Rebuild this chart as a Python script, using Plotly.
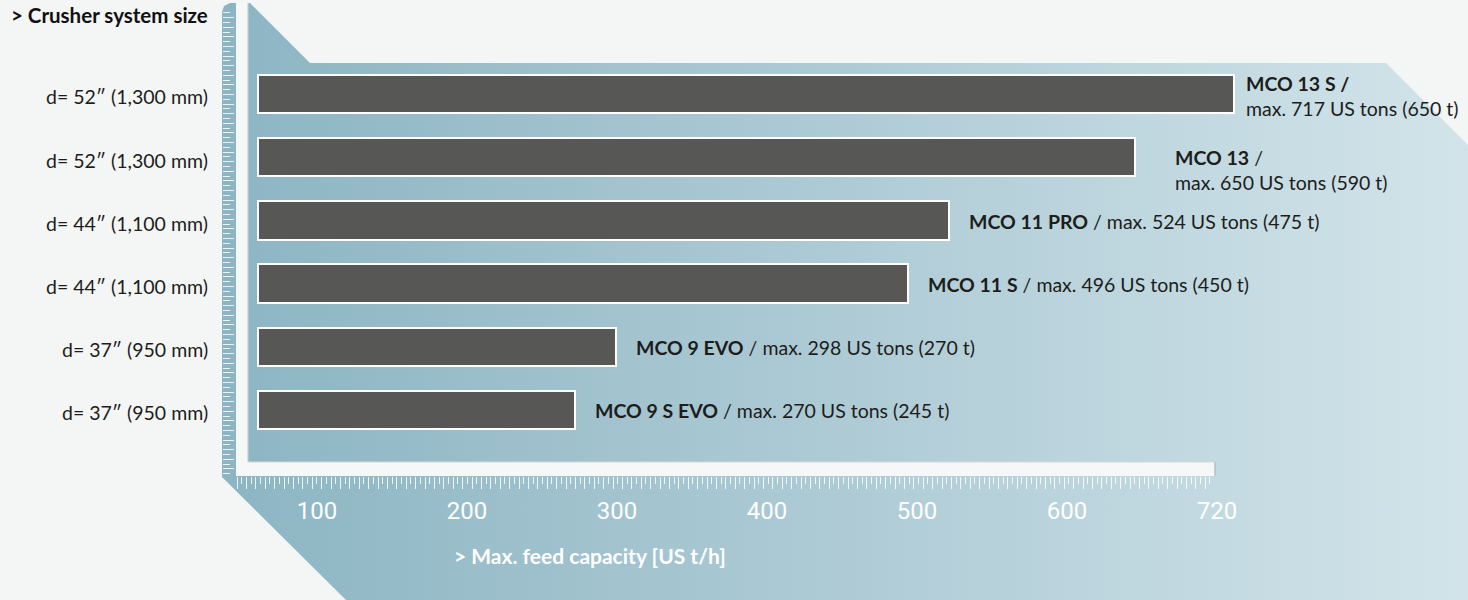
import plotly.graph_objects as go

W, H = 1468, 600

# ---------------- data ----------------
MODELS = ["MCO 9 S EVO", "MCO 9 EVO", "MCO 11 S", "MCO 11 PRO", "MCO 13", "MCO 13 S"]
CAPACITY_US = [270, 298, 496, 524, 650, 717]      # max. US tons
CAPACITY_T = [245, 270, 450, 475, 590, 650]       # metric t
SIZES = ["d= 37″ (950 mm)", "d= 37″ (950 mm)", "d= 44″ (1,100 mm)",
         "d= 44″ (1,100 mm)", "d= 52″ (1,300 mm)", "d= 52″ (1,300 mm)"]
TICK_VALUES = [100, 200, 300, 400, 500, 600, 700]
TICK_LABELS = ["100", "200", "300", "400", "500", "600", "720"]
Y_TITLE = "> Crusher system size"
X_TITLE = "> Max. feed capacity [US t/h]"

# ---------------- styling / layout helpers ----------------
FONT = "Lato"
TXT = "#1d1d1b"
BAR = "#575756"
PAPER = "#f4f5f5"


def px(x):
    return x / W


def py(y):
    return 1 - y / H


# bar axis: pixel = A + B * value (scale of the original graphic)
A, B = 176.8, 1.474
BAR_BASE = (258 - A) / B


def val(pxl):
    return (pxl - A) / B


fig = go.Figure()

# background polygon with horizontal gradient (in pixel-unit axes x/y)
poly_x = [222, 224, 230, 250, 310, 1386, 1468, 1468, 346, 222, 222]
poly_y = [12, 6, 3, 3, 63, 63, 145, 600, 600, 477, 12]
fig.add_trace(go.Scatter(
    x=poly_x, y=poly_y, mode="lines", fill="toself", line=dict(width=0),
    fillgradient=dict(type="horizontal",
                      colorscale=[[0, "#8cb5c3"], [0.5, "#aecbd5"], [1, "#d2e4ea"]]),
    hoverinfo="skip", showlegend=False, xaxis="x", yaxis="y"))

# bars
fig.add_trace(go.Bar(
    orientation="h", y=MODELS, x=[v - BAR_BASE for v in CAPACITY_US], base=BAR_BASE,
    width=0.61, marker=dict(color=BAR, line=dict(color="white", width=2)),
    xaxis="x2", yaxis="y2", showlegend=False, hoverinfo="skip"))

# dummy traces to instantiate ruler / label axes
for xa, ya in [("x3", "y"), ("x4", "y"), ("x", "y3")]:
    fig.add_trace(go.Scatter(x=[None], y=[None], xaxis=xa, yaxis=ya,
                             showlegend=False, hoverinfo="skip"))

annotations = []
# left category labels
for m, s in zip(MODELS, SIZES):
    annotations.append(dict(xref="paper", x=px(210), yref="y2", y=m, text=s,
                            xanchor="right", yanchor="middle", showarrow=False,
                            yshift=-3, font=dict(family=FONT, size=19.5, color=TXT)))

# bar labels
label_style = {
    "MCO 13 S": dict(xshift=10, yshift=-2, two=True, boldslash=True),
    "MCO 13": dict(xshift=38, yshift=-13, two=True, boldslash=False),
}
for m, us, t in zip(MODELS, CAPACITY_US, CAPACITY_T):
    st = label_style.get(m, dict(xshift=18, yshift=-1, two=False, boldslash=False))
    rest = f"max. {us} US tons ({t} t)"
    if st["two"]:
        head = f"<b>{m} /</b>" if st["boldslash"] else f"<b>{m}</b> /"
        text = f"{head}<br>{rest}"
    else:
        text = f"<b>{m}</b> / {rest}"
    annotations.append(dict(xref="x2", x=us, yref="y2", y=m, text=text,
                            xanchor="left", yanchor="middle", align="left",
                            showarrow=False, xshift=st["xshift"], yshift=st["yshift"],
                            font=dict(family=FONT, size=19.5, color=TXT)))

annotations.append(dict(xref="paper", x=px(210), y=py(15), yref="paper", text=f"<b>{Y_TITLE}</b>",
                        xanchor="right", yanchor="middle", showarrow=False,
                        font=dict(family=FONT, size=20.5, color="#111111")))
annotations.append(dict(xref="paper", x=px(590), y=py(555), yref="paper", text=f"<b>{X_TITLE}</b>",
                        xanchor="center", yanchor="middle", showarrow=False,
                        font=dict(family=FONT, size=21, color="white")))

shapes = [
    # white vertical bar
    dict(type="rect", xref="x", yref="y", x0=236, x1=248, y0=3, y1=476,
         fillcolor="#f6f7f7", line=dict(width=0), layer="above"),
    dict(type="line", xref="x", yref="y", x0=248, x1=248, y0=3, y1=462,
         line=dict(color="#c9cfd1", width=1.2), layer="above"),
    # white horizontal bar
    dict(type="rect", xref="x", yref="y", x0=236, x1=1215, y0=462, y1=476,
         fillcolor="#f6f7f7", line=dict(width=0), layer="above"),
    dict(type="line", xref="x", yref="y", x0=248, x1=1215, y0=462, y1=462,
         line=dict(color="#d3d8da", width=1.2), layer="above"),
    dict(type="line", xref="x", yref="y", x0=1215, x1=1215, y0=462, y1=476,
         line=dict(color="#b9bfc1", width=1.5), layer="above"),
]

hidden = dict(showgrid=False, zeroline=False, showticklabels=False, ticks="",
              showline=False, automargin=False)
TICKC = "rgba(255,255,255,0.85)"

fig.update_layout(
    width=W, height=H, margin=dict(l=0, r=0, t=0, b=0, pad=0), autosize=False,
    paper_bgcolor=PAPER, plot_bgcolor="rgba(0,0,0,0)",
    showlegend=False, bargap=0,
    xaxis=dict(domain=[0, 1], range=[0, W], **hidden, fixedrange=True),
    yaxis=dict(domain=[0, 1], range=[H, 0], **hidden, fixedrange=True),
    xaxis2=dict(domain=[px(248), 1], range=[val(248), val(W)],
                anchor="y2", **hidden),
    yaxis2=dict(domain=[py(462), py(63)], range=[-0.823, 5.49], type="category",
                categoryorder="array", categoryarray=MODELS, anchor="x2", **hidden),
    # horizontal ruler ticks
    xaxis3=dict(domain=[px(237), px(1212)], range=[0, 975], anchor="free", position=py(476),
                showgrid=False, zeroline=False, showline=False, showticklabels=False,
                automargin=False,
                ticks="outside", ticklen=12, tickwidth=1, tickcolor=TICKC,
                tick0=0, dtick=9.4,
                minor=dict(ticks="outside", ticklen=7, tickwidth=1, tickcolor=TICKC, dtick=4.7)),
    # tick labels axis
    xaxis4=dict(domain=[px(167), px(1217)], range=[0, 700], anchor="free", position=py(476),
                showgrid=False, zeroline=False, showline=False, automargin=False,
                tickmode="array", tickvals=TICK_VALUES, ticktext=TICK_LABELS,
                ticks="outside", ticklen=13, tickcolor="rgba(0,0,0,0)",
                tickfont=dict(family="Roboto", size=24, color="white")),
    # vertical ruler ticks
    yaxis3=dict(domain=[py(476), py(8)], range=[468, 0], anchor="free", position=px(222),
                side="left", showgrid=False, zeroline=False, showline=False,
                showticklabels=False, automargin=False,
                ticks="inside", ticklen=11, tickwidth=1,
                tickcolor=TICKC, tick0=0, dtick=9.6,
                minor=dict(ticks="inside", ticklen=7, tickwidth=1, tickcolor=TICKC, dtick=4.8)),
    annotations=annotations, shapes=shapes,
)

fig.write_html(
    "out.html", config=dict(responsive=False, displayModeBar=False),
    post_script=("document.documentElement.style.overflow='hidden';"
                 "document.body.style.overflow='hidden';"
                 "document.body.style.margin='0';document.body.style.padding='0';"))
